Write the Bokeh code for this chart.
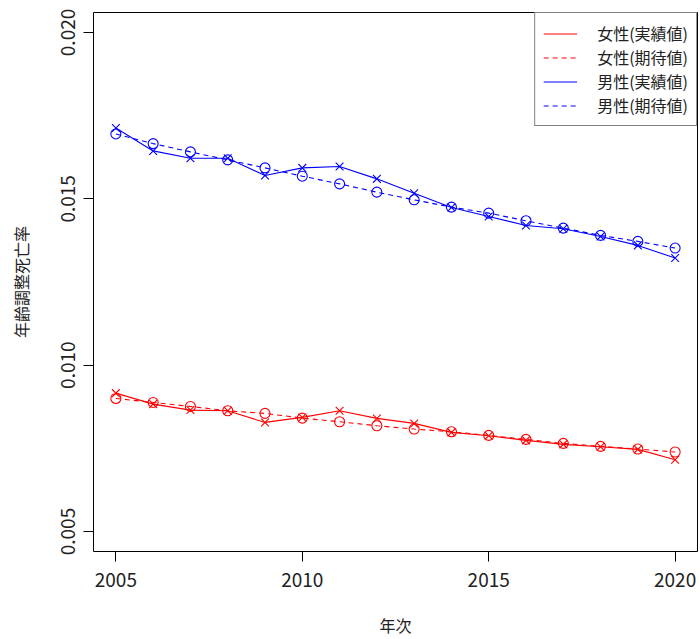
from bokeh.plotting import figure
from bokeh.models import FixedTicker, Range1d, PrintfTickFormatter, Legend, LegendItem
from bokeh.embed import file_html
from bokeh.resources import INLINE

# Age-adjusted mortality rates by year, actual vs expected
years = list(range(2005, 2021))

female_actual = [0.00916, 0.00883, 0.00865, 0.00863, 0.00828, 0.00843, 0.00863, 0.00840,
                 0.00825, 0.00798, 0.00788, 0.00774, 0.00762, 0.00755, 0.00747, 0.00716]
female_expected = [0.00900, 0.00888, 0.00876, 0.00863, 0.00855, 0.00841, 0.00830, 0.00818,
                   0.00808, 0.00800, 0.00789, 0.00777, 0.00765, 0.00756, 0.00748, 0.00739]
male_actual = [0.01713, 0.01644, 0.01622, 0.01622, 0.01570, 0.01593, 0.01597, 0.01560,
               0.01517, 0.01474, 0.01447, 0.01420, 0.01410, 0.01387, 0.01360, 0.01322]
male_expected = [0.01695, 0.01666, 0.01641, 0.01617, 0.01593, 0.01568, 0.01545, 0.01520,
                 0.01497, 0.01475, 0.01457, 0.01434, 0.01412, 0.01390, 0.01372, 0.01352]

x_ticks = [2005, 2010, 2015, 2020]
y_ticks = [0.005, 0.010, 0.015, 0.020]

legend_labels = ["女性(実績値)", "女性(期待値)", "男性(実績値)", "男性(期待値)"]

FONT = "Noto Sans CJK JP"
RED = "#FF0000"
BLUE = "#0000FF"

p = figure(width=700, height=639, output_backend="svg", toolbar_location=None,
           x_range=Range1d(2004.4, 2020.6), y_range=Range1d(0.0044, 0.0206),
           min_border_left=93, min_border_right=3, min_border_top=12, min_border_bottom=84)

p.xgrid.visible = False
p.ygrid.visible = False
p.outline_line_color = "black"
p.outline_line_width = 1
p.background_fill_color = "white"
p.border_fill_color = "white"

for ax in (p.xaxis[0], p.yaxis[0]):
    ax.axis_line_color = None
    ax.major_tick_out = 10
    ax.major_tick_in = 0
    ax.minor_tick_line_color = None
    ax.major_tick_line_color = "black"
    ax.major_label_text_font = FONT
    ax.major_label_text_font_size = "19px"
    ax.major_label_text_color = "#222222"
    ax.axis_label_text_font = FONT
    ax.axis_label_text_font_size = "16px"
    ax.axis_label_text_font_style = "normal"
    ax.axis_label_text_color = "#222222"

p.xaxis.ticker = FixedTicker(ticks=x_ticks)
p.yaxis.ticker = FixedTicker(ticks=y_ticks)
p.yaxis.formatter = PrintfTickFormatter(format="%.3f")
p.yaxis.major_label_orientation = "vertical"

p.xaxis.axis_label = "年次"
p.yaxis.axis_label = "年齢調整死亡率"
p.xaxis.major_label_standoff = 11
p.yaxis.major_label_standoff = 8
p.xaxis.axis_label_standoff = 23
p.yaxis.axis_label_standoff = 26

series = [
    (female_actual, RED, "solid", "x"),
    (female_expected, RED, "5 4", "circle"),
    (male_actual, BLUE, "solid", "x"),
    (male_expected, BLUE, "5 4", "circle"),
]

items = []
for (vals, color, dash, marker), label in zip(series, legend_labels):
    r = p.line(years, vals, line_color=color, line_width=1.1, line_dash=dash)
    if marker == "x":
        p.scatter(years, vals, marker="x", size=11, line_color=color, line_width=1.1)
    else:
        p.scatter(years, vals, marker="circle", size=10, line_color=color,
                  fill_color=None, line_width=1.1)
    items.append(LegendItem(label=label, renderers=[r]))

legend = Legend(items=items, location="top_right", margin=0, padding=8,
                spacing=0, glyph_width=34, glyph_height=17, label_height=17,
                label_standoff=20, border_line_color="black", border_line_width=1,
                label_text_font=FONT, label_text_font_size="16px",
                label_text_color="#222222", background_fill_alpha=1.0)
p.add_layout(legend, "center")

open("out.html", "w").write(file_html(p, INLINE))
